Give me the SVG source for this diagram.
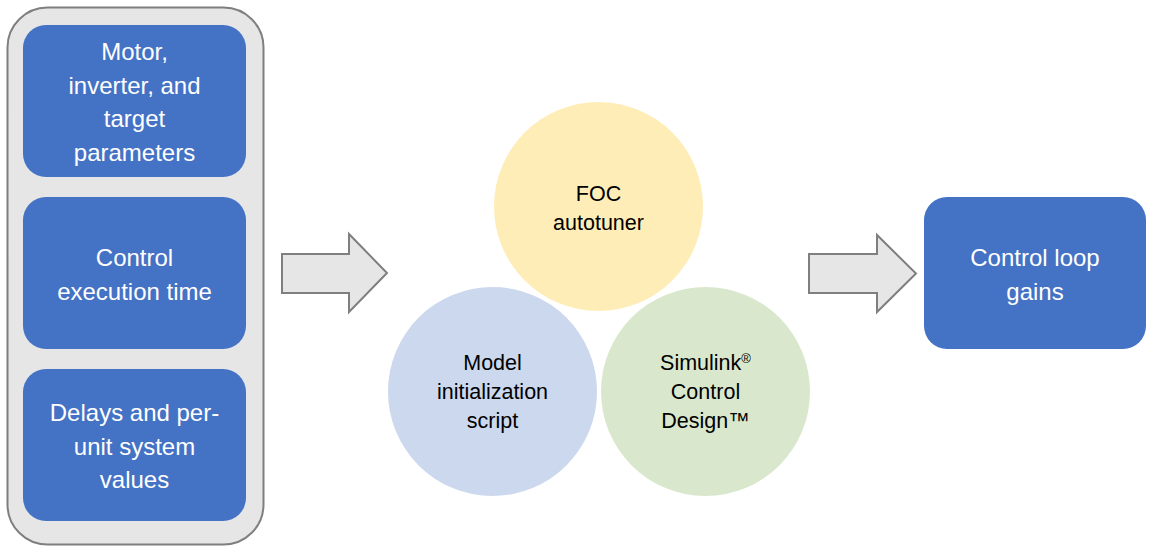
<svg xmlns="http://www.w3.org/2000/svg" width="1151" height="551" viewBox="0 0 1151 551">
<style>
.box{fill:#4472c4;}
.wt{fill:#ffffff;font-family:"Liberation Sans",Arial,sans-serif;font-size:24px;text-anchor:middle;}
.bt{fill:#000000;font-family:"Liberation Sans",Arial,sans-serif;font-size:21.5px;text-anchor:middle;}
.arrow{fill:#e6e6e6;stroke:#7f7f7f;stroke-width:2;}
</style>
<rect width="1151" height="551" fill="#ffffff"/>
<g id="container">
<rect x="7.5" y="7.5" width="256" height="537" rx="40" ry="40" fill="#e6e6e6" stroke="#7f7f7f" stroke-width="2"/>
</g>
<g id="box-motor">
<rect class="box" x="23" y="25" width="223" height="152" rx="23" ry="23"/>
<text class="wt"><tspan x="134.5" y="60">Motor,</tspan><tspan x="134.5" y="94">inverter, and</tspan><tspan x="134.5" y="127">target</tspan><tspan x="134.5" y="161">parameters</tspan></text>
</g>
<g id="box-control">
<rect class="box" x="23" y="197" width="223" height="152" rx="23" ry="23"/>
<text class="wt"><tspan x="134.5" y="266">Control</tspan><tspan x="134.5" y="300">execution time</tspan></text>
</g>
<g id="box-delays">
<rect class="box" x="23" y="369" width="223" height="152" rx="23" ry="23"/>
<text class="wt"><tspan x="134.5" y="421">Delays and per-</tspan><tspan x="134.5" y="455">unit system</tspan><tspan x="134.5" y="488">values</tspan></text>
</g>
<g id="circle-foc">
<circle cx="598.5" cy="206.5" r="104.5" fill="#ffedb8"/>
<text class="bt"><tspan x="598.5" y="200.5">FOC</tspan><tspan x="598.5" y="229.5">autotuner</tspan></text>
</g>
<g id="circle-model">
<circle cx="492.5" cy="391.5" r="104.5" fill="#ccd8ee"/>
<text class="bt"><tspan x="492.5" y="369.5">Model</tspan><tspan x="492.5" y="398.5">initialization</tspan><tspan x="492.5" y="427.5">script</tspan></text>
</g>
<g id="circle-simulink">
<circle cx="705.5" cy="391.5" r="104.5" fill="#d9e8cc"/>
<text class="bt"><tspan x="705.5" y="369.5">Simulink<tspan font-size="13" baseline-shift="super">®</tspan></tspan><tspan x="705.5" y="398.5">Control</tspan><tspan x="705.5" y="427.5">Design™</tspan></text>
</g>
<g id="box-gains">
<rect class="box" x="924" y="197" width="222" height="152" rx="23" ry="23"/>
<text class="wt"><tspan x="1035" y="266">Control loop</tspan><tspan x="1035" y="300">gains</tspan></text>
</g>
<g id="connectors">
<polygon class="arrow" points="282,254 349,254 349,234 387,273 349,312 349,293 282,293"/>
<polygon class="arrow" points="809,254 877,254 877,235 916,273.5 877,312 877,293 809,293"/>
</g>
</svg>
